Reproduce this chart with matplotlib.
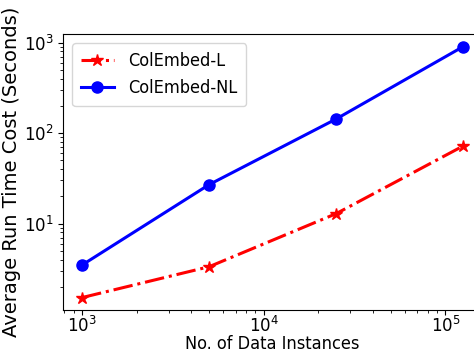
import matplotlib
matplotlib.use("Agg")
import matplotlib.pyplot as plt

instances = [1000, 5000, 25000, 125000]
colembed_l = [1.53, 3.35, 12.9, 72]
colembed_nl = [3.5, 27, 143, 900]

fig = plt.figure(figsize=(4.74, 3.52), dpi=100)
ax = fig.add_axes([0.133, 0.119, 0.884, 0.784])

ax.plot(instances, colembed_l, color="r", linestyle="-.", marker="*",
        markersize=9, linewidth=2.2, label="ColEmbed-L")
ax.plot(instances, colembed_nl, color="b", linestyle="-", marker="o",
        markersize=8, linewidth=2.2, label="ColEmbed-NL")

ax.set_xscale("log")
ax.set_yscale("log")
ax.set_xlabel("No. of Data Instances", fontsize=13, fontstretch="condensed")
ax.xaxis.set_label_coords(0.5, -0.09)
ax.set_ylabel("Average Run Time Cost (Seconds)", fontsize=14, labelpad=2)
ax.tick_params(axis="both", which="major", labelsize=12)
ax.tick_params(axis="x", which="major", pad=1)
ax.legend(loc="upper left", prop={"size": 13, "stretch": "condensed"},
          borderpad=0.5, handlelength=1.8)

fig.savefig("out.png", dpi=100)
